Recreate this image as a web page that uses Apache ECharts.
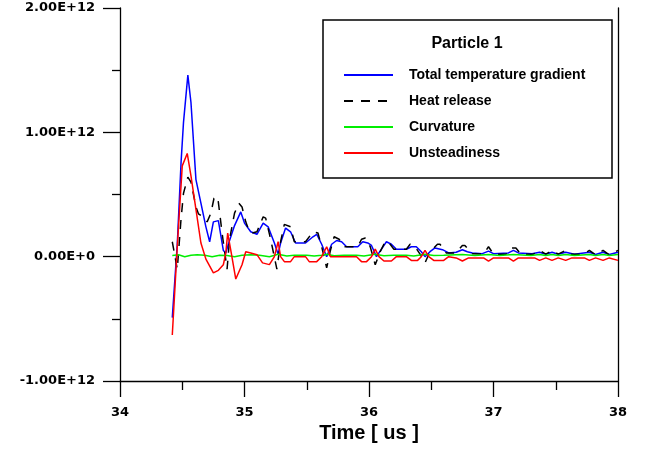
<!DOCTYPE html>
<html>
<head>
<meta charset="utf-8">
<script src="https://cdn.jsdelivr.net/npm/echarts@6/dist/echarts.min.js"></script>
<style>html,body{margin:0;padding:0;background:#fff}#c{width:647px;height:449px}</style>
</head>
<body>
<div id="c"></div>
<script>
// values in units of 1E+12
const seriesNames = ['Total temperature gradient', 'Heat release', 'Curvature', 'Unsteadiness'];
const legendTitle = 'Particle 1';
const xTicks = [34, 35, 36, 37, 38];
const yTicks = [-1, 0, 1, 2];

const totalGradient = [[34.42,-0.49],[34.46,0.1],[34.49,0.75],[34.51,1.08],[34.545,1.46],[34.57,1.24],[34.61,0.62],[34.65,0.43],[34.69,0.24],[34.72,0.12],[34.75,0.28],[34.79,0.29],[34.83,0.05],[34.85,0.03],[34.87,0.1],[34.92,0.25],[34.97,0.36],[35.0,0.27],[35.05,0.2],[35.1,0.18],[35.15,0.27],[35.19,0.24],[35.24,0.11],[35.27,0.02],[35.29,0.11],[35.33,0.23],[35.37,0.2],[35.41,0.11],[35.49,0.11],[35.55,0.16],[35.58,0.18],[35.62,0.1],[35.66,0.0],[35.7,0.1],[35.74,0.13],[35.78,0.12],[35.82,0.08],[35.91,0.08],[35.95,0.12],[35.99,0.11],[36.02,0.09],[36.06,0.0],[36.1,0.06],[36.14,0.12],[36.18,0.1],[36.22,0.06],[36.3,0.06],[36.34,0.08],[36.38,0.08],[36.42,0.04],[36.45,0.0],[36.49,0.04],[36.53,0.07],[36.59,0.056],[36.64,0.03],[36.7,0.035],[36.75,0.056],[36.79,0.04],[36.83,0.03],[36.91,0.024],[36.96,0.045],[37.0,0.024],[37.12,0.03],[37.16,0.05],[37.2,0.03],[37.31,0.024],[37.37,0.035],[37.42,0.02],[37.47,0.035],[37.52,0.02],[37.58,0.035],[37.65,0.02],[37.77,0.035],[37.82,0.018],[37.88,0.035],[37.93,0.018],[38.0,0.035]];

const heatRelease = [[34.42,0.12],[34.46,-0.1],[34.49,0.3],[34.51,0.51],[34.545,0.64],[34.57,0.6],[34.61,0.4],[34.63,0.345],[34.67,0.32],[34.7,0.28],[34.73,0.35],[34.755,0.47],[34.785,0.48],[34.82,0.19],[34.86,-0.1],[34.88,0.14],[34.92,0.35],[34.955,0.43],[34.98,0.4],[35.01,0.28],[35.04,0.2],[35.06,0.19],[35.1,0.2],[35.15,0.32],[35.17,0.31],[35.21,0.14],[35.26,-0.1],[35.29,0.12],[35.32,0.26],[35.37,0.24],[35.4,0.12],[35.49,0.12],[35.55,0.2],[35.59,0.19],[35.62,0.08],[35.66,-0.09],[35.69,0.05],[35.72,0.16],[35.76,0.14],[35.8,0.08],[35.91,0.08],[35.94,0.14],[35.97,0.15],[36.01,0.08],[36.05,-0.065],[36.09,0.04],[36.13,0.12],[36.155,0.12],[36.2,0.06],[36.3,0.06],[36.33,0.1],[36.37,0.08],[36.41,0.02],[36.45,-0.05],[36.49,0.04],[36.55,0.1],[36.57,0.1],[36.62,0.03],[36.7,0.03],[36.75,0.09],[36.77,0.09],[36.83,0.024],[36.92,0.02],[36.96,0.08],[37.0,0.02],[37.1,0.02],[37.14,0.07],[37.18,0.07],[37.22,0.02],[37.32,0.02],[37.37,0.05],[37.42,0.02],[37.47,0.05],[37.52,0.02],[37.58,0.05],[37.62,0.02],[37.72,0.02],[37.77,0.05],[37.82,0.015],[37.88,0.05],[37.93,0.015],[38.0,0.05]];

const curvature = [[34.42,0.01],[34.47,0.015],[34.52,0.0],[34.57,0.012],[34.62,0.015],[34.68,0.012],[34.74,0.0],[34.8,0.012],[34.86,0.01],[34.92,0.0],[34.98,0.012],[35.05,0.015],[35.12,0.012],[35.2,0.0],[35.27,0.02],[35.34,0.005],[35.4,0.012],[35.5,0.012],[35.56,0.005],[35.62,0.012],[35.66,0.02],[35.72,0.008],[35.8,0.012],[35.9,0.012],[35.96,0.005],[36.05,0.02],[36.12,0.008],[36.2,0.012],[36.3,0.012],[36.36,0.006],[36.45,0.02],[36.52,0.01],[36.6,0.012],[36.75,0.018],[36.85,0.01],[36.96,0.018],[37.05,0.01],[37.16,0.018],[37.3,0.01],[37.37,0.018],[37.42,0.01],[37.47,0.018],[37.52,0.01],[37.58,0.018],[37.65,0.01],[37.77,0.018],[37.82,0.01],[37.88,0.018],[37.93,0.01],[38.0,0.018]];

const unsteadiness = [[34.42,-0.63],[34.46,0.08],[34.5,0.73],[34.54,0.83],[34.57,0.65],[34.61,0.38],[34.65,0.11],[34.69,-0.02],[34.75,-0.13],[34.79,-0.11],[34.83,-0.065],[34.85,0.03],[34.865,0.19],[34.89,0.05],[34.93,-0.18],[34.98,-0.065],[35.01,0.04],[35.05,0.03],[35.1,0.016],[35.145,-0.05],[35.2,-0.064],[35.24,0.0],[35.27,0.12],[35.29,0.0],[35.32,-0.04],[35.37,-0.04],[35.4,0.0],[35.49,0.0],[35.52,-0.04],[35.58,-0.04],[35.62,0.0],[35.66,0.08],[35.69,0.0],[35.9,0.0],[35.94,-0.04],[35.98,-0.04],[36.02,0.0],[36.05,0.06],[36.08,0.0],[36.12,-0.035],[36.18,-0.035],[36.22,0.0],[36.3,0.0],[36.34,-0.03],[36.39,-0.03],[36.42,0.0],[36.45,0.05],[36.48,0.0],[36.52,-0.03],[36.6,-0.03],[36.64,0.0],[36.7,-0.01],[36.75,-0.035],[36.8,-0.01],[36.92,-0.01],[36.96,-0.035],[37.0,-0.01],[37.12,-0.01],[37.16,-0.035],[37.2,-0.01],[37.33,-0.01],[37.37,-0.03],[37.42,-0.01],[37.47,-0.03],[37.52,-0.01],[37.58,-0.03],[37.63,-0.01],[37.73,-0.01],[37.77,-0.03],[37.82,-0.01],[37.88,-0.03],[37.93,-0.01],[38.0,-0.03]];

const colors = ['#0000ff', '#000000', '#00ee00', '#ff0000'];
const font = 'Liberation Sans, Arial, sans-serif';
const tickFont = 'DejaVu Sans, sans-serif';

const chart = echarts.init(document.getElementById('c'), null, {renderer: 'canvas'});
const mk = (name, data, color, type) => ({
  name, type: 'line', data, symbol: 'none', smooth: false, animation: false,
  lineStyle: {color, width: 1.5, type: type || 'solid'}, itemStyle: {color}, z: 3
});
chart.setOption({
  animation: false,
  grid: {left: 120, right: 29, top: 8, bottom: 68, containLabel: false},
  xAxis: {
    type: 'value', min: xTicks[0], max: xTicks[xTicks.length - 1], interval: 1,
    name: 'Time [ us ]', nameLocation: 'middle', nameGap: 41,
    nameTextStyle: {fontFamily: font, fontWeight: 'bold', fontSize: 20, color: '#000'},
    axisLine: {show: true, onZero: false, lineStyle: {color: '#000', width: 1.3}},
    axisTick: {show: true, inside: false, length: 16, lineStyle: {color: '#000', width: 1.3}},
    minorTick: {show: true, splitNumber: 2, length: 9, lineStyle: {color: '#000', width: 1.3}},
    axisLabel: {margin: 25, fontFamily: tickFont, fontWeight: 'bold', fontSize: 13, color: '#000'},
    splitLine: {show: false}
  },
  yAxis: [{
    type: 'value', min: yTicks[0], max: yTicks[yTicks.length - 1], interval: 1,
    axisLine: {show: true, onZero: false, lineStyle: {color: '#000', width: 1.3}},
    axisTick: {show: true, inside: false, length: 17, lineStyle: {color: '#000', width: 1.3}},
    minorTick: {show: true, splitNumber: 2, length: 8, lineStyle: {color: '#000', width: 1.3}},
    axisLabel: {margin: 25, fontFamily: tickFont, fontWeight: 'bold', fontSize: 13, color: '#000',
      formatter: v => v === 0 ? '0.00E+0' : v.toFixed(2) + 'E+12'},
    splitLine: {show: false}
  }, {
    type: 'value', min: yTicks[0], max: yTicks[yTicks.length - 1], position: 'right',
    axisLine: {show: true, onZero: false, lineStyle: {color: '#000', width: 1.3}},
    axisTick: {show: false}, axisLabel: {show: false}, splitLine: {show: false}
  }],
  legend: {
    orient: 'vertical', left: 343, top: 68, padding: 0, itemWidth: 49, itemHeight: 14, itemGap: 12,
    z: 20,
    data: seriesNames,
    itemStyle: {opacity: 0},
    textStyle: {fontFamily: font, fontWeight: 'bold', fontSize: 14, lineHeight: 14, color: '#000', padding: [0, 0, 0, 11]},
    selectedMode: false
  },
  graphic: [
    {type: 'rect', shape: {x: 323, y: 20, width: 289, height: 158}, style: {fill: '#fff', stroke: '#000', lineWidth: 1.5}, z: 5},
    {type: 'text', x: 467, y: 44, style: {text: legendTitle, font: 'bold 16px ' + font, fill: '#000', textAlign: 'center', textVerticalAlign: 'middle'}, z: 6}
  ],
  series: [
    mk(seriesNames[0], totalGradient, colors[0]),
    mk(seriesNames[1], heatRelease, colors[1], [9, 8]),
    mk(seriesNames[2], curvature, colors[2]),
    mk(seriesNames[3], unsteadiness, colors[3])
  ]
});
</script>
</body>
</html>
